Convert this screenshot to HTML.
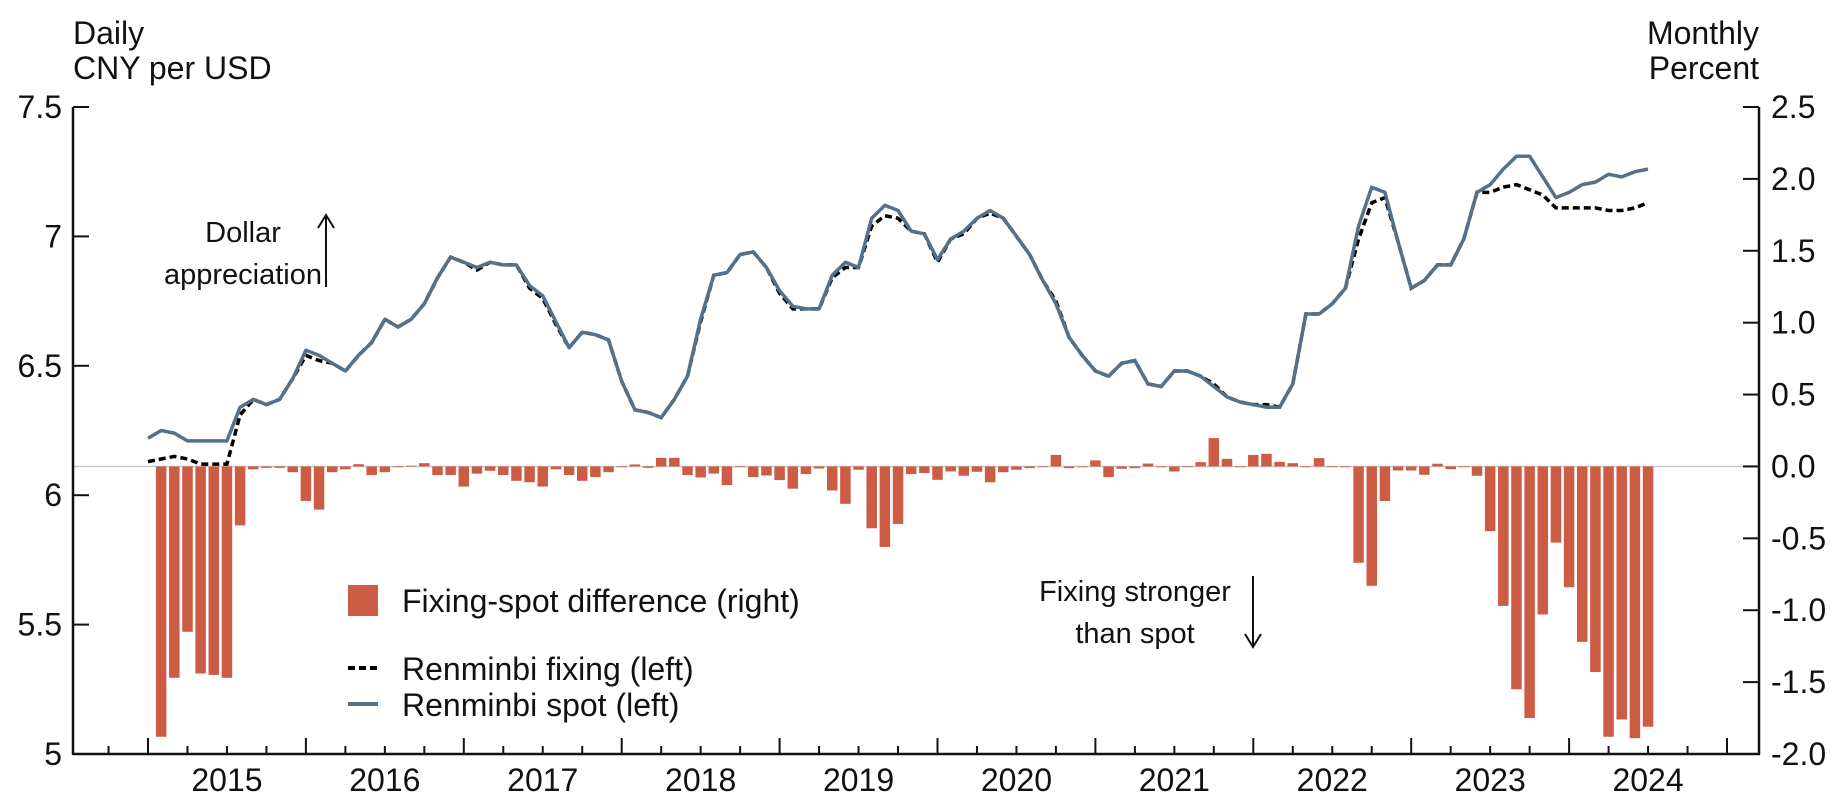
<!DOCTYPE html>
<html><head><meta charset="utf-8"><style>
html,body{margin:0;padding:0;background:#fff;}
svg{display:block;font-family:"Liberation Sans",sans-serif;}
</style></head><body>
<svg id="chart" width="1839" height="809" viewBox="0 0 1839 809" xmlns="http://www.w3.org/2000/svg">
<text x="73" y="44" font-size="32" fill="#111">Daily</text>
<text x="73" y="79" font-size="32" fill="#111">CNY per USD</text>
<text x="1759" y="44" font-size="32" fill="#111" text-anchor="end">Monthly</text>
<text x="1759" y="79" font-size="32" fill="#111" text-anchor="end">Percent</text>
<g id="grid"></g><g id="bars"></g><g id="lines"></g><g id="axes"></g>
<g>
<text x="243" y="242" font-size="29" fill="#111" text-anchor="middle">Dollar</text>
<text x="243" y="284" font-size="29" fill="#111" text-anchor="middle">appreciation</text>
<line x1="326" y1="287" x2="326" y2="216" stroke="#111" stroke-width="2"/>
<polyline points="318,228 326,215 334,228" fill="none" stroke="#111" stroke-width="2"/>
</g>
<g>
<text x="1135" y="601" font-size="29" fill="#111" text-anchor="middle">Fixing stronger</text>
<text x="1135" y="643" font-size="29" fill="#111" text-anchor="middle">than spot</text>
<line x1="1253" y1="576" x2="1253" y2="646" stroke="#111" stroke-width="2"/>
<polyline points="1245,634 1253,647 1261,634" fill="none" stroke="#111" stroke-width="2"/>
</g>
<g>
<rect x="348" y="585" width="30" height="31" fill="#cd5c45"/>
<text x="402" y="612" font-size="32" fill="#111">Fixing-spot difference (right)</text>
<line x1="348" y1="668" x2="378" y2="668" stroke="#000" stroke-width="4" stroke-dasharray="7,4"/>
<text x="402" y="680" font-size="32" fill="#111">Renminbi fixing (left)</text>
<line x1="348" y1="704" x2="378" y2="704" stroke="#557088" stroke-width="4"/>
<text x="402" y="716" font-size="32" fill="#111">Renminbi spot (left)</text>
</g>
</svg>
<script>
const spot = [6.22,6.25,6.24,6.21,6.21,6.21,6.21,6.34,6.37,6.35,
6.37,6.45,6.56,6.54,6.51,6.48,6.54,6.59,6.68,6.65,
6.68,6.74,6.84,6.92,6.90,6.88,6.90,6.89,6.89,6.81,
6.77,6.67,6.57,6.63,6.62,6.60,6.44,6.33,6.32,6.30,
6.37,6.46,6.68,6.85,6.86,6.93,6.94,6.88,6.79,6.73,
6.72,6.72,6.85,6.90,6.88,7.07,7.12,7.10,7.02,7.01,
6.91,6.99,7.02,7.07,7.10,7.07,7.00,6.93,6.83,6.74,
6.61,6.54,6.48,6.46,6.51,6.52,6.43,6.42,6.48,6.48,
6.46,6.42,6.38,6.36,6.35,6.34,6.34,6.43,6.70,6.70,
6.74,6.80,7.04,7.19,7.17,6.98,6.80,6.83,6.89,6.89,
6.99,7.17,7.20,7.26,7.31,7.31,7.23,7.15,7.17,7.20,
7.21,7.24,7.23,7.25,7.26];
const fixing = [6.13,6.14,6.15,6.14,6.12,6.12,6.12,6.31,6.37,6.35,
6.37,6.45,6.54,6.52,6.51,6.48,6.54,6.59,6.68,6.65,
6.68,6.74,6.84,6.92,6.90,6.87,6.90,6.89,6.89,6.80,
6.76,6.66,6.57,6.63,6.62,6.60,6.44,6.33,6.32,6.30,
6.37,6.46,6.67,6.85,6.86,6.93,6.94,6.88,6.78,6.72,
6.72,6.72,6.84,6.88,6.88,7.04,7.08,7.07,7.02,7.01,
6.90,6.99,7.01,7.07,7.09,7.07,7.00,6.93,6.83,6.75,
6.61,6.54,6.48,6.46,6.51,6.52,6.43,6.42,6.48,6.48,
6.46,6.43,6.38,6.36,6.35,6.35,6.34,6.43,6.70,6.70,
6.74,6.80,6.99,7.13,7.15,6.98,6.80,6.83,6.89,6.89,
6.99,7.17,7.17,7.19,7.20,7.18,7.16,7.11,7.11,7.11,
7.11,7.10,7.10,7.11,7.13];
const diff = [null,-1.88,-1.47,-1.15,-1.44,-1.45,-1.47,-0.41,-0.02,-0.01,
-0.01,-0.04,-0.24,-0.30,-0.04,-0.02,0.016,-0.06,-0.04,0,
0.005,0.023,-0.06,-0.06,-0.14,-0.05,-0.03,-0.06,-0.10,-0.11,
-0.14,-0.02,-0.06,-0.10,-0.074,-0.04,0,0.014,-0.01,0.06,
0.06,-0.06,-0.077,-0.05,-0.13,0,-0.074,-0.063,-0.095,-0.155,
-0.053,-0.014,-0.167,-0.26,-0.023,-0.43,-0.56,-0.40,-0.053,-0.046,
-0.093,-0.035,-0.065,-0.037,-0.11,-0.04,-0.023,-0.012,0,0.08,
-0.012,0,0.042,-0.074,-0.016,-0.012,0.02,0,-0.035,0,
0.03,0.197,0.053,0,0.08,0.088,0.032,0.023,0,0.058,
0,0,-0.67,-0.83,-0.24,-0.028,-0.028,-0.058,0.019,-0.019,
0,-0.065,-0.45,-0.97,-1.55,-1.75,-1.03,-0.53,-0.84,-1.22,
-1.43,-1.88,-1.76,-1.89,-1.81];
const yearLabels = ["2015","2016","2017","2018","2019","2020","2021","2022","2023","2024"];
const leftTicks = [7.5,7,6.5,6,5.5,5];
const leftTickLabels = ["7.5","7","6.5","6","5.5","5"];
const rightTicks = [2.5,2,1.5,1,0.5,0,-0.5,-1,-1.5,-2];
const rightTickLabels = ["2.5","2.0","1.5","1.0","0.5","0.0","-0.5","-1.0","-1.5","-2.0"];

const NS="http://www.w3.org/2000/svg";
const X0=148, YEARW=157.9, MW=YEARW/12, AXL=73, AXR=1759, TOP=107, BOT=754;
function xM(i){return X0+i*MW;}
function yL(v){return TOP+(7.5-v)*(BOT-TOP)/2.5;}
function yR(v){return TOP+(2.5-v)*(BOT-TOP)/4.5;}
function mk(tag,attrs,parent){const e=document.createElementNS(NS,tag);for(const k in attrs)e.setAttribute(k,attrs[k]);parent.appendChild(e);return e;}
const grid=document.getElementById('grid'),bars=document.getElementById('bars'),lines=document.getElementById('lines'),axes=document.getElementById('axes');

const zl=mk('line',{x1:AXL,x2:AXR,y1:yR(0),y2:yR(0),stroke:'#c8c8c8','stroke-width':1.5},grid);



diff.forEach((v,i)=>{
  if(v===null)return;
  const y0=yR(0),y1=yR(v);
  const r=mk('rect',{x:xM(i)-5.25,y:Math.min(y0,y1),width:10.5,height:Math.max(0.8,Math.abs(y1-y0)),fill:'#cd5c45'},bars);
  
  
});

function pathOf(arr){return arr.map((v,i)=>(i?'L':'M')+xM(i).toFixed(1)+','+yL(v).toFixed(1)).join(' ');}
const fl=mk('path',{d:pathOf(fixing),fill:'none',stroke:'#000','stroke-width':3.5,'stroke-dasharray':'7,4'},lines);


const sl=mk('path',{d:pathOf(spot),fill:'none',stroke:'#557088','stroke-width':3.5,'stroke-linejoin':'round'},lines);



const la=mk('line',{x1:AXL,x2:AXL,y1:TOP,y2:BOT+1,stroke:'#111','stroke-width':2.5},axes);


const ra=mk('line',{x1:AXR,x2:AXR,y1:TOP,y2:BOT+1,stroke:'#111','stroke-width':2.5},axes);


const xa=mk('line',{x1:AXL,x2:AXR+1,y1:BOT,y2:BOT,stroke:'#111','stroke-width':2.5},axes);



leftTicks.forEach((v,k)=>{
  const y=yL(v);
  mk('line',{x1:AXL,x2:AXL+16,y1:y,y2:y,stroke:'#111','stroke-width':2},axes);
  const t=mk('text',{x:62,y:y+11,'font-size':32,'text-anchor':'end',fill:'#111'},axes);
  t.textContent=leftTickLabels[k];
  
  
});
rightTicks.forEach((v,k)=>{
  const y=yR(v);
  mk('line',{x1:AXR-16,x2:AXR,y1:y,y2:y,stroke:'#111','stroke-width':2},axes);
  const t=mk('text',{x:1771,y:y+11,'font-size':32,fill:'#111'},axes);
  t.textContent=rightTickLabels[k];
  
  
});
for(let q=-1;q<=40;q++){
  const x=X0+q*YEARW/4;
  const major=(q%4===0);
  mk('line',{x1:x,x2:x,y1:BOT,y2:major?BOT-16:BOT-8,stroke:'#111','stroke-width':2},axes);
}
yearLabels.forEach((lab,k)=>{
  const t=mk('text',{x:X0+(k+0.5)*YEARW,y:791,'font-size':32,'text-anchor':'middle',fill:'#111'},axes);
  t.textContent=lab;
  
  
});
</script>
</body></html>
